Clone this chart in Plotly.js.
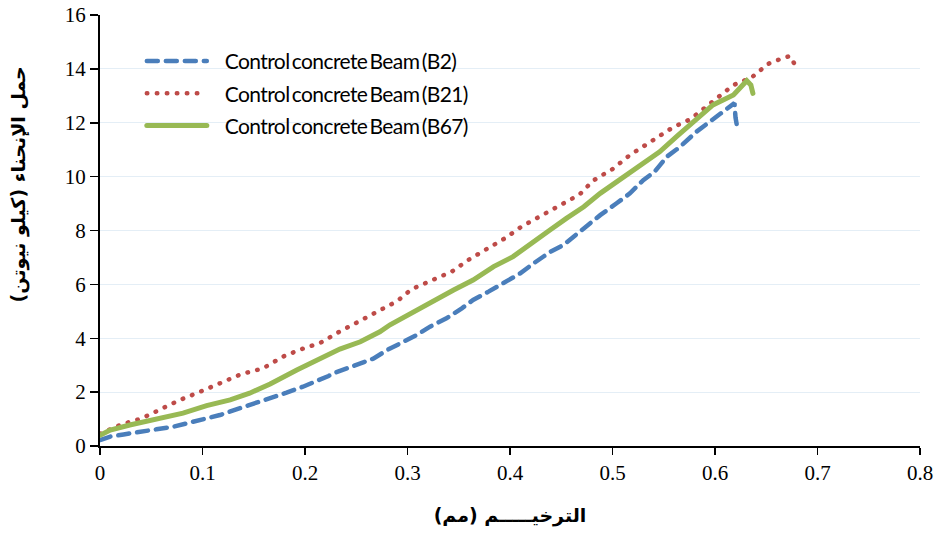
<!DOCTYPE html>
<html>
<head>
<meta charset="utf-8">
<script src="https://cdn.plot.ly/plotly-3.0.1.min.js"></script>
<style>
html,body{margin:0;padding:0;background:#fff;}
#chart{width:940px;height:538px;}
.scatterlayer .js-line, .legend .js-line{stroke-linecap:round;}
.legend .legendtext{letter-spacing:-0.6px;word-spacing:-2.5px;transform:translateX(13px);}
</style>
</head>
<body>
<div id="chart"></div>
<script>
// Series names
const seriesNames = ["Control concrete Beam (B2)", "Control concrete Beam (B21)", "Control concrete Beam (B67)"];

// B2 (blue dashed)
const b2X = [0,0.01,0.023,0.039,0.055,0.072,0.088,0.104,0.117,0.133,0.15,0.166,0.182,0.198,0.211,0.223,0.228,0.25,0.267,0.28,0.296,0.309,0.322,0.338,0.353,0.364,0.379,0.397,0.41,0.423,0.439,0.452,0.468,0.478,0.488,0.504,0.517,0.53,0.541,0.553,0.566,0.582,0.597,0.611,0.619,0.62,0.622];
const b2Y = [0.22,0.35,0.43,0.51,0.62,0.72,0.87,1.05,1.15,1.36,1.56,1.77,1.98,2.2,2.39,2.6,2.7,3.0,3.25,3.56,3.87,4.12,4.43,4.74,5.11,5.42,5.73,6.1,6.41,6.78,7.2,7.46,7.95,8.27,8.57,9.01,9.38,9.87,10.18,10.74,11.11,11.67,12.1,12.47,12.73,12.2,11.75];

// B21 (red dotted)
const b21X = [0,0.01,0.021,0.041,0.06,0.078,0.098,0.119,0.138,0.159,0.178,0.196,0.215,0.233,0.253,0.271,0.29,0.304,0.324,0.343,0.359,0.378,0.395,0.411,0.43,0.449,0.468,0.481,0.5,0.517,0.532,0.549,0.559,0.576,0.597,0.618,0.636,0.652,0.662,0.673,0.677];
const b21Y = [0.45,0.62,0.8,1.03,1.4,1.71,2.02,2.36,2.67,2.88,3.31,3.59,3.83,4.23,4.65,5.02,5.38,5.82,6.14,6.47,6.9,7.34,7.71,8.14,8.54,8.95,9.34,9.85,10.28,10.8,11.17,11.57,11.83,12.13,12.78,13.4,13.69,14.19,14.34,14.48,14.22];

// B67 (green solid)
const b67X = [0,0.01,0.029,0.055,0.081,0.104,0.127,0.146,0.166,0.192,0.208,0.221,0.234,0.254,0.273,0.283,0.306,0.325,0.345,0.364,0.384,0.403,0.423,0.439,0.455,0.472,0.488,0.504,0.52,0.533,0.546,0.563,0.582,0.598,0.618,0.631,0.635,0.637];
const b67Y = [0.4,0.59,0.78,0.99,1.22,1.5,1.71,1.96,2.3,2.82,3.1,3.35,3.6,3.87,4.24,4.5,4.99,5.36,5.79,6.16,6.66,7.03,7.55,8.02,8.45,8.88,9.38,9.81,10.24,10.55,10.92,11.5,12.15,12.66,13.03,13.56,13.4,13.09];

// Tick labels
const xTickVals = [0,0.1,0.2,0.3,0.4,0.5,0.6,0.7,0.8];
const xTickText = ["0","0.1","0.2","0.3","0.4","0.5","0.6","0.7","0.8"];
const yTickVals = [0,2,4,6,8,10,12,14,16];
const yTickText = ["0","2","4","6","8","10","12","14","16"];

const xTitle = "الترخيـــــم (مم)";
const yTitle = "حمل الإنحناء (كيلو نيوتن)";

const traces = [
  {x: b2X, y: b2Y, name: seriesNames[0], mode: "lines", legendgroup: "a",
   line: {color: "#4A7EBB", width: 4.5, dash: "11px,8px"}},
  {x: b21X, y: b21Y, name: seriesNames[1], mode: "lines", legendgroup: "b",
   line: {color: "#BE4B48", width: 4.5, dash: "0.5px,9.5px"}},
  {x: b67X, y: b67Y, name: seriesNames[2], mode: "lines", legendgroup: "c",
   line: {color: "#98B954", width: 5}}
];

const layout = {
  width: 940, height: 538,
  margin: {l: 100, r: 20, t: 15, b: 92},
  paper_bgcolor: "#fff", plot_bgcolor: "#fff",
  showlegend: true,
  legend: {x: 0.051, y: 0.94, xanchor: "left", yanchor: "top",
           bgcolor: "rgba(0,0,0,0)", traceorder: "grouped", tracegroupgap: 2,
           itemwidth: 60,
           font: {family: "Lato", size: 21, color: "#000"}},
  xaxis: {
    range: [0, 0.8], tickvals: xTickVals, ticktext: xTickText,
    showgrid: false, zeroline: false, showline: true, linecolor: "#000", linewidth: 2,
    ticks: "outside", ticklen: 7, tickwidth: 1.5, tickcolor: "#000",
    tickfont: {family: "Liberation Serif", size: 21, color: "#000"},
    title: {text: "<b>" + xTitle + "</b>", standoff: 24, font: {family: "DejaVu Sans", size: 19, color: "#000"}}
  },
  yaxis: {
    range: [0, 16], tickvals: yTickVals, ticktext: yTickText,
    showgrid: true, gridcolor: "#E4EEF6", gridwidth: 1,
    zeroline: false, showline: true, linecolor: "#000", linewidth: 2,
    ticks: "outside", ticklen: 8, tickwidth: 1.5, tickcolor: "#000",
    tickfont: {family: "Liberation Serif", size: 21, color: "#000"}
  },
  annotations: [
    {text: "<b>" + yTitle + "</b>", xref: "paper", yref: "paper", x: -0.1, y: 0.607,
     xanchor: "center", yanchor: "middle", textangle: -90, showarrow: false,
     font: {family: "DejaVu Sans", size: 19, color: "#000"}}
  ]
};

Plotly.newPlot("chart", traces, layout, {displayModeBar: false, staticPlot: true});
</script>
</body>
</html>
